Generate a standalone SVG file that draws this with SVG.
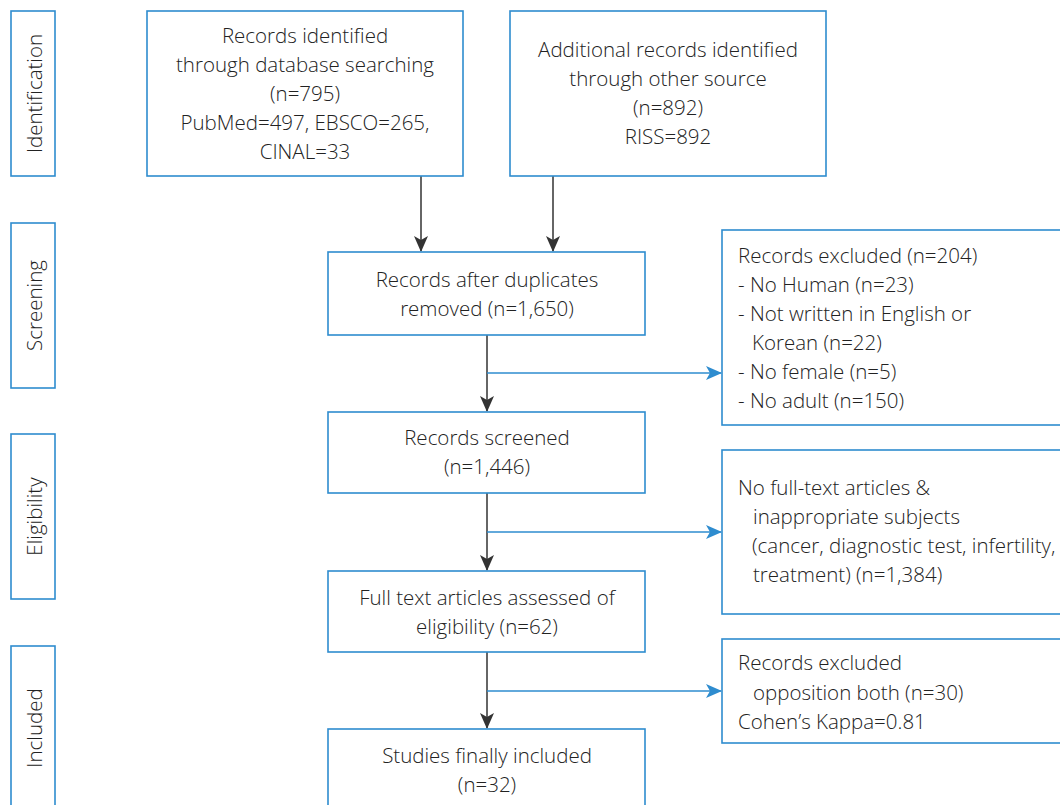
<svg xmlns="http://www.w3.org/2000/svg" width="1060" height="805" viewBox="0 0 1060 805">
<style>
.box{fill:#fff;stroke:#2e8ccf;stroke-width:1.6}
.t{font-family:"Open Sans","Liberation Sans",sans-serif;font-size:20.5px;fill:#222;font-weight:300}
.c{text-anchor:middle}
.k{stroke:#333;stroke-width:1.5;fill:none}
.b{stroke:#2e8ccf;stroke-width:1.5;fill:none}
</style>
<defs>
<marker id="ak" markerWidth="16" markerHeight="16" refX="15" refY="7" orient="auto" markerUnits="userSpaceOnUse" viewBox="0 0 16 14">
<path d="M0,0 L16,7 L0,14 L4,7 Z" fill="#333"/>
</marker>
<marker id="ab" markerWidth="16" markerHeight="16" refX="15" refY="7" orient="auto" markerUnits="userSpaceOnUse" viewBox="0 0 16 14">
<path d="M0,0 L16,7 L0,14 L4,7 Z" fill="#2e8ccf"/>
</marker>
</defs>
<rect width="1060" height="805" fill="#fff"/>
<g id="stage-identification"><rect class="box" x="11" y="11" width="44" height="165"/><text class="t c" transform="translate(42,93.5) rotate(-90)">Identification</text></g>
<g id="stage-screening"><rect class="box" x="11" y="223" width="44" height="165"/><text class="t c" transform="translate(42,305.5) rotate(-90)">Screening</text></g>
<g id="stage-eligibility"><rect class="box" x="11" y="434" width="44" height="165"/><text class="t c" transform="translate(42,516.5) rotate(-90)">Eligibility</text></g>
<g id="stage-included"><rect class="box" x="11" y="646" width="44" height="170"/><text class="t c" transform="translate(42,728) rotate(-90)">Included</text></g>
<g id="connectors">
<line class="k" x1="421" y1="176" x2="421" y2="251" marker-end="url(#ak)"/>
<line class="k" x1="553" y1="176" x2="553" y2="251" marker-end="url(#ak)"/>
<line class="k" x1="487" y1="335" x2="487" y2="411" marker-end="url(#ak)"/>
<line class="k" x1="487" y1="493" x2="487" y2="570" marker-end="url(#ak)"/>
<line class="k" x1="487" y1="652" x2="487" y2="728" marker-end="url(#ak)"/>
<line class="b" x1="487" y1="373" x2="721" y2="373" marker-end="url(#ab)"/>
<line class="b" x1="487" y1="532" x2="721" y2="532" marker-end="url(#ab)"/>
<line class="b" x1="487" y1="691" x2="721" y2="691" marker-end="url(#ab)"/>
</g>
<g id="db-search"><rect class="box" x="147" y="11" width="316" height="165"/>
<text class="t c" x="305" y="43">Records identified</text>
<text class="t c" x="305" y="72">through database searching</text>
<text class="t c" x="305" y="101">(n=795)</text>
<text class="t c" x="305" y="130">PubMed=497, EBSCO=265,</text>
<text class="t c" x="305" y="159">CINAL=33</text></g>
<g id="other-source"><rect class="box" x="510" y="11" width="316" height="165"/>
<text class="t c" x="668" y="57">Additional records identified</text>
<text class="t c" x="668" y="86">through other source</text>
<text class="t c" x="668" y="115">(n=892)</text>
<text class="t c" x="668" y="144">RISS=892</text></g>
<g id="duplicates"><rect class="box" x="328" y="252" width="317" height="83"/>
<text class="t c" x="487" y="287">Records after duplicates</text>
<text class="t c" x="487" y="316">removed (n=1,650)</text></g>
<g id="screened"><rect class="box" x="328" y="412" width="317" height="81"/>
<text class="t c" x="487" y="445">Records screened</text>
<text class="t c" x="487" y="474">(n=1,446)</text></g>
<g id="fulltext"><rect class="box" x="328" y="571" width="317" height="81"/>
<text class="t c" x="487" y="605">Full text articles assessed of</text>
<text class="t c" x="487" y="634">eligibility (n=62)</text></g>
<g id="included"><rect class="box" x="328" y="729" width="317" height="90"/>
<text class="t c" x="487" y="763">Studies finally included</text>
<text class="t c" x="487" y="792">(n=32)</text></g>
<g id="excluded-1"><rect class="box" x="722" y="230" width="350" height="195"/>
<text class="t" x="738" y="263">Records excluded (n=204)</text>
<text class="t" x="738" y="292">- No Human (n=23)</text>
<text class="t" x="738" y="321">- Not written in English or</text>
<text class="t" x="752" y="350">Korean (n=22)</text>
<text class="t" x="738" y="379">- No female (n=5)</text>
<text class="t" x="738" y="408">- No adult (n=150)</text></g>
<g id="excluded-2"><rect class="box" x="722" y="450" width="350" height="164"/>
<text class="t" x="738" y="495">No full-text articles &amp;</text>
<text class="t" x="753" y="524">inappropriate subjects</text>
<text class="t" x="752" y="553">(cancer, diagnostic test, infertility,</text>
<text class="t" x="753" y="582">treatment) (n=1,384)</text></g>
<g id="excluded-3"><rect class="box" x="722" y="639" width="350" height="104"/>
<text class="t" x="738" y="670">Records excluded</text>
<text class="t" x="753" y="700">opposition both (n=30)</text>
<text class="t" x="738" y="729">Cohen’s Kappa=0.81</text></g>
</svg>
